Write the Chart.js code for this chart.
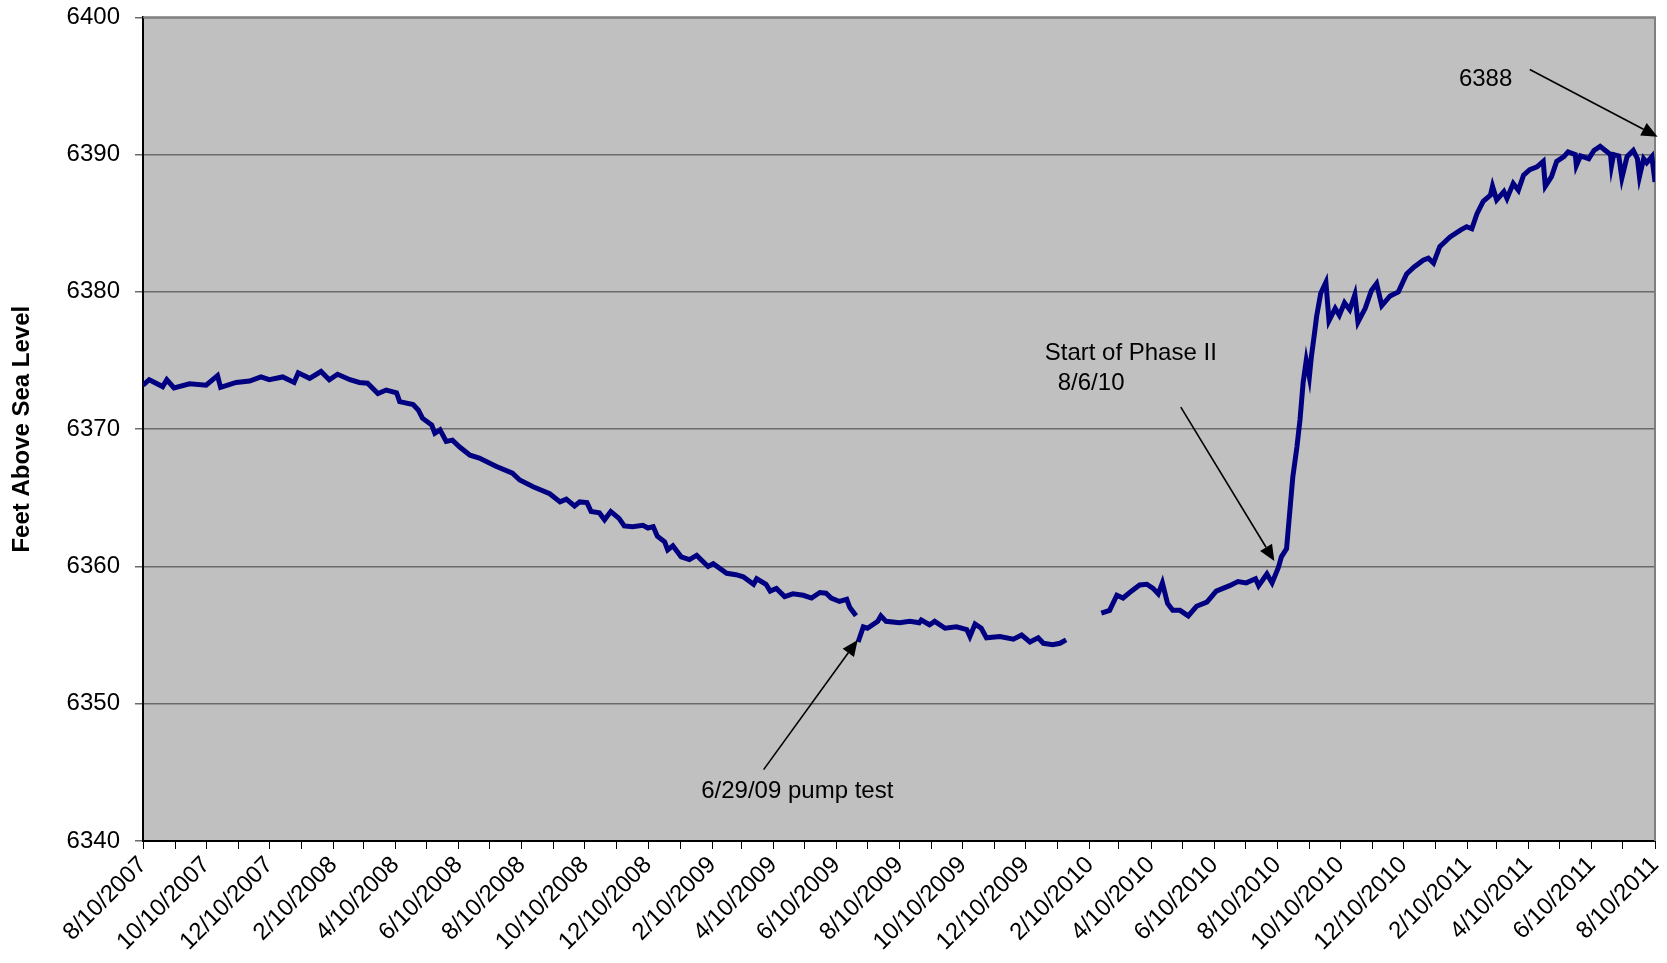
<!DOCTYPE html>
<html>
<head>
<meta charset="utf-8">
<title>Feet Above Sea Level</title>
<script src="https://cdn.jsdelivr.net/npm/chart.js@4.4.1/dist/chart.umd.min.js"></script>
<style>
  body { margin: 0; background: #fff; }
  #wrap { width: 1667px; height: 963px; }
</style>
</head>
<body>
<div id="wrap"><canvas id="chart" width="1667" height="963"></canvas></div>
<script>
// === Data ===
// days counted from 8/10/2007, null = gap in the record
const days = [
  // first stretch, up to the pump test
  0, 6, 19, 23, 30, 45, 61, 72, 75, 90, 103, 114, 122, 135, 146, 150, 161, 172, 180, 188,
  200, 209, 217, 227, 235, 245, 248, 261, 266, 270, 279, 282, 287, 293, 299, 306, 316, 325, 341, 357,
  364, 377, 393, 403, 409, 417, 422, 429, 433, 441, 446, 452, 460, 465, 473, 483, 488, 493, 497, 504,
  507, 512, 520, 528, 535, 546, 551, 564, 573, 580, 590, 593, 602, 606, 612, 620, 628, 638, 646, 654,
  660, 665, 673, 680, 683, 689,
  690,
  // after the pump test
  691, 696, 700, 710, 713, 718, 731, 741, 750, 752, 760, 765, 775, 786, 796, 799, 804, 810, 815, 828,
  841, 849, 857, 865, 870, 879, 886, 892,
  893,
  // from spring 2010
  926, 934, 941, 947, 955, 963, 970, 976, 981, 985, 990, 995, 1002, 1010, 1018, 1028, 1037, 1050, 1058, 1066,
  1075, 1078, 1086, 1091, 1097, 1100, 1105, 1108, 1111, 1115, 1118, 1121, 1124, 1127, 1129, 1132, 1134, 1138, 1143, 1146,
  1152, 1156, 1161, 1166, 1171, 1174, 1181, 1187, 1192, 1197, 1205, 1213, 1221, 1228, 1237, 1242, 1247, 1253, 1263, 1273,
  1279, 1284, 1289, 1295, 1302, 1304, 1308, 1315, 1318, 1324, 1329, 1334, 1340, 1347, 1353, 1355, 1361, 1366, 1373, 1377,
  1384, 1385, 1389, 1397, 1402, 1408, 1413, 1418, 1419, 1421, 1426, 1429, 1434, 1440, 1444, 1446, 1450, 1453, 1458, 1461
];
const levels = [
  6373.2, 6373.6, 6373.1, 6373.6, 6373.0, 6373.3, 6373.2, 6373.9, 6373.05, 6373.4, 6373.5, 6373.8, 6373.6, 6373.8, 6373.4, 6374.1, 6373.7, 6374.2, 6373.6, 6374.0,
  6373.6, 6373.4, 6373.35, 6372.6, 6372.85, 6372.65, 6372.0, 6371.8, 6371.4, 6370.8, 6370.3, 6369.7, 6369.95, 6369.1, 6369.2, 6368.7, 6368.1, 6367.9, 6367.3, 6366.8,
  6366.3, 6365.8, 6365.3, 6364.7, 6364.9, 6364.4, 6364.7, 6364.65, 6364.0, 6363.9, 6363.4, 6364.0, 6363.5, 6362.95, 6362.9, 6363.0, 6362.8, 6362.9, 6362.2, 6361.8,
  6361.2, 6361.5, 6360.7, 6360.5, 6360.8, 6360.0, 6360.2, 6359.5, 6359.4, 6359.25, 6358.7, 6359.1, 6358.7, 6358.2, 6358.4, 6357.8, 6358.0, 6357.9, 6357.7, 6358.1,
  6358.05, 6357.7, 6357.45, 6357.6, 6357.0, 6356.4,
  null,
  6354.5, 6355.6, 6355.5, 6356.0, 6356.4, 6356.0, 6355.9, 6356.0, 6355.9, 6356.1, 6355.75, 6356.0, 6355.5, 6355.6, 6355.4, 6354.9, 6355.8, 6355.5, 6354.8, 6354.9,
  6354.7, 6355.0, 6354.5, 6354.8, 6354.4, 6354.3, 6354.4, 6354.65,
  null,
  6356.6, 6356.8, 6357.9, 6357.7, 6358.2, 6358.65, 6358.7, 6358.4, 6358.0, 6358.8, 6357.3, 6356.8, 6356.8, 6356.4, 6357.1, 6357.4, 6358.2, 6358.6, 6358.9, 6358.8,
  6359.1, 6358.6, 6359.45, 6358.8, 6359.9, 6360.7, 6361.3, 6363.9, 6366.5, 6368.7, 6370.7, 6373.4, 6375.0, 6373.8, 6375.3, 6377.0, 6378.2, 6379.9, 6380.7, 6377.9,
  6378.8, 6378.3, 6379.2, 6378.7, 6379.8, 6377.8, 6378.8, 6380.1, 6380.6, 6379.0, 6379.7, 6380.0, 6381.3, 6381.8, 6382.3, 6382.45, 6382.1, 6383.3, 6384.0, 6384.5,
  6384.75, 6384.6, 6385.7, 6386.6, 6387.05, 6387.7, 6386.7, 6387.3, 6386.8, 6387.9, 6387.4, 6388.5, 6388.9, 6389.1, 6389.5, 6387.7, 6388.4, 6389.5, 6389.85, 6390.2,
  6390.0, 6389.2, 6389.9, 6389.7, 6390.3, 6390.6, 6390.3, 6390.0, 6389.2, 6390.0, 6389.9, 6388.3, 6389.85, 6390.3, 6389.7, 6388.4, 6389.7, 6389.4, 6389.85, 6388.0
];

const tickLabels = [
  '8/10/2007', '10/10/2007', '12/10/2007', '2/10/2008', '4/10/2008', '6/10/2008', '8/10/2008',
  '10/10/2008', '12/10/2008', '2/10/2009', '4/10/2009', '6/10/2009', '8/10/2009', '10/10/2009',
  '12/10/2009', '2/10/2010', '4/10/2010', '6/10/2010', '8/10/2010', '10/10/2010', '12/10/2010',
  '2/10/2011', '4/10/2011', '6/10/2011', '8/10/2011'
];
const yMin = 6340, yMax = 6400, yStep = 10;

// notes on the chart (day, level)
const notes = [
  { text: '6388', day: 1271.5, level: 6395.5 },
  { text: 'Start of Phase II', day: 871.3, level: 6375.5 },
  { text: '8/6/10', day: 883.9, level: 6373.3 },
  { text: '6/29/09 pump test', day: 539.4, level: 6343.6 }
];
const arrows = [
  { from: [1340, 6396.2], to: [1463.5, 6391.3] },
  { from: [1002.8, 6371.6], to: [1093.2, 6360.4] },
  { from: [599.7, 6345.2], to: [690.6, 6354.65] }
];

// === Helpers : dates -> days ===
const DAY = 86400000;
function parseDate(s) {
  const [m, d, y] = s.split('/').map(Number);
  return Date.UTC(y, m - 1, d);
}
const start = parseDate(tickLabels[0]);
const labelAt = new Map();
const tickDays = [];
tickLabels.forEach((lab, i) => {
  const t = parseDate(lab);
  const day = Math.round((t - start) / DAY);
  labelAt.set(day, lab);
  tickDays.push(day);
  if (i < tickLabels.length - 1) {
    // minor tick: the month in between
    const dt = new Date(t);
    const mid = Date.UTC(dt.getUTCFullYear(), dt.getUTCMonth() + 1, dt.getUTCDate());
    tickDays.push(Math.round((mid - start) / DAY));
  }
});
const lastDay = tickDays[tickDays.length - 1];

const points = days.map((d, i) => ({ x: d, y: levels[i] }));

const FONT = '"Liberation Sans", Arial, sans-serif';

// === Plugin : plot background, border, notes and arrows ===
const decor = {
  id: 'decor',
  beforeDraw(chart) {
    const { ctx, chartArea: a } = chart;
    ctx.save();
    ctx.fillStyle = '#c0c0c0';
    ctx.fillRect(a.left, a.top, a.right - a.left, a.bottom - a.top);
    ctx.restore();
  },
  beforeDatasetsDraw(chart) {
    const { ctx, chartArea: a } = chart;
    ctx.save();
    ctx.strokeStyle = '#808080';
    ctx.lineWidth = 2;
    ctx.beginPath();
    ctx.moveTo(a.left, a.top);
    ctx.lineTo(a.right, a.top);
    ctx.lineTo(a.right, a.bottom);
    ctx.stroke();
    ctx.restore();
  },
  afterDraw(chart) {
    const { ctx } = chart;
    const sx = chart.scales.x, sy = chart.scales.y;
    ctx.save();
    ctx.fillStyle = '#000';
    ctx.font = '24px ' + FONT;
    ctx.textBaseline = 'middle';
    ctx.textAlign = 'left';
    notes.forEach(n => {
      ctx.fillText(n.text, sx.getPixelForValue(n.day), sy.getPixelForValue(n.level));
    });
    ctx.strokeStyle = '#000';
    ctx.lineWidth = 1.6;
    arrows.forEach(ar => {
      const x1 = sx.getPixelForValue(ar.from[0]), y1 = sy.getPixelForValue(ar.from[1]);
      const x2 = sx.getPixelForValue(ar.to[0]), y2 = sy.getPixelForValue(ar.to[1]);
      const ang = Math.atan2(y2 - y1, x2 - x1);
      const len = 16, half = 7;
      const bx = x2 - len * Math.cos(ang), by = y2 - len * Math.sin(ang);
      ctx.beginPath();
      ctx.moveTo(x1, y1);
      ctx.lineTo(bx, by);
      ctx.stroke();
      ctx.beginPath();
      ctx.moveTo(x2, y2);
      ctx.lineTo(bx + half * Math.sin(ang), by - half * Math.cos(ang));
      ctx.lineTo(bx - half * Math.sin(ang), by + half * Math.cos(ang));
      ctx.closePath();
      ctx.fill();
    });
    ctx.restore();
  }
};

// === Chart ===
new Chart(document.getElementById('chart'), {
  type: 'line',
  data: {
    datasets: [{
      label: 'Water level',
      data: points,
      borderColor: '#000080',
      borderWidth: 5,
      pointRadius: 0,
      tension: 0,
      spanGaps: false
    }]
  },
  options: {
    responsive: false,
    animation: false,
    layout: { padding: { left: 0, right: 12, top: 17.3, bottom: 0 } },
    plugins: {
      legend: { display: false },
      tooltip: { enabled: false }
    },
    scales: {
      x: {
        type: 'linear',
        min: 0,
        max: lastDay,
        afterBuildTicks: (scale) => {
          scale.ticks = tickDays.map(v => ({ value: v }));
        },
        afterFit: (scale) => {
          scale.height = 122;
          scale.paddingLeft = 0;
          scale.paddingRight = 0;
        },
        ticks: {
          autoSkip: false,
          minRotation: 45,
          maxRotation: 45,
          padding: 2,
          color: '#000',
          font: { family: FONT, size: 24 },
          callback: (v) => labelAt.get(v) || ''
        },
        grid: {
          drawOnChartArea: false,
          drawTicks: true,
          tickLength: 8,
          color: '#000'
        },
        border: { color: '#000', width: 2 }
      },
      y: {
        min: yMin,
        max: yMax,
        afterFit: (scale) => {
          scale.width = 143;
          scale.paddingTop = 0;
          scale.paddingBottom = 0;
        },
        ticks: {
          stepSize: yStep,
          padding: 15,
          color: '#000',
          font: { family: FONT, size: 24 },
          callback: (v) => String(v)
        },
        grid: {
          color: '#6b6b6b',
          lineWidth: 1.5,
          tickLength: 8
        },
        border: { color: '#000', width: 2 },
        title: {
          display: true,
          text: 'Feet Above Sea Level',
          color: '#000',
          font: { family: FONT, size: 24, weight: 'bold' },
          padding: { top: 8, bottom: 0 }
        }
      }
    }
  },
  plugins: [decor]
});
</script>
</body>
</html>
